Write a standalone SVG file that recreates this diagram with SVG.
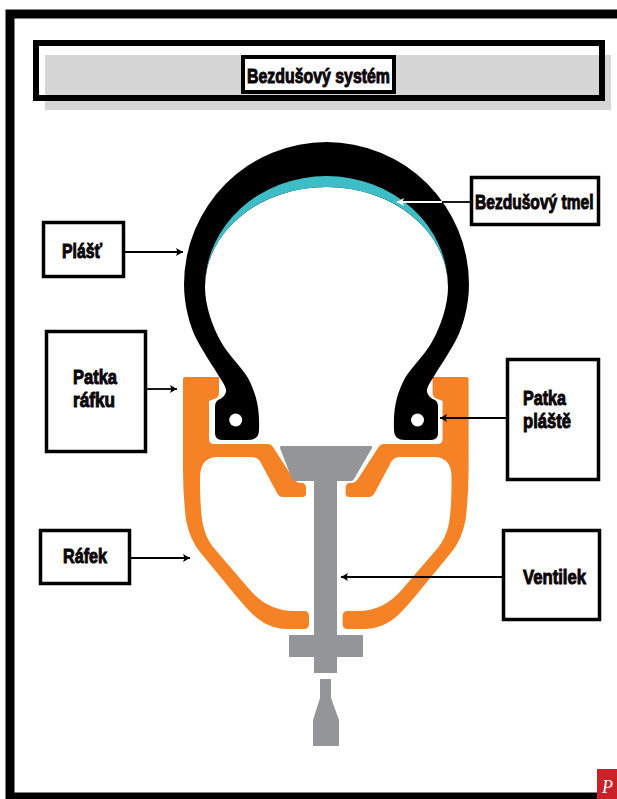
<svg xmlns="http://www.w3.org/2000/svg" xmlns:xlink="http://www.w3.org/1999/xlink" width="617" height="799" viewBox="0 0 617 799">
<style>
.box{fill:#fff;stroke:#000;stroke-width:3.5}
.lbl{font-family:"Liberation Sans",Arial,sans-serif;font-weight:700;font-size:21px;fill:#0a0408;stroke:#0a0408;stroke-width:1}
.con{fill:none;stroke:#000;stroke-width:1.8}
.rim{fill:#f58225}
.val{fill:#939598}
</style>
<defs>
<marker id="ah" markerUnits="userSpaceOnUse" markerWidth="8" markerHeight="10" refX="7" refY="5" orient="auto"><path d="M0 1L7 5L0 9L1.500 5Z" fill="#000"/></marker>
<marker id="ahw" markerUnits="userSpaceOnUse" markerWidth="8" markerHeight="10" refX="7" refY="5" orient="auto"><path d="M0 1L7 5L0 9L1.500 5Z" fill="#fff"/></marker>
<path id="rimHalf" d="M185 377H219V392Q219 398 214 399L209 401V439Q209 444 214 444H268Q271 444 273 447L293 478Q296 483 301 483H303Q306 484 306 488V494Q306 497 302 497H283Q279 497 277 493L262 465Q259 457 252 457H216Q200 458 200 478Q200 510 203 525Q206 538 213 547L250 590Q268 611 294 611H304Q309 611 309 616V624Q309 629 304 629H288C262 629 250 612 237 597L200 552Q190 540 186 520Q183 495 183 470V379Q183 377 185 377Z"/>
<path id="tireHalf" d="M327 142A142.500 142.500 0 0 0 184 284.500C184 305 190 327 197 340C205 355 213 366 220 378Q227 388 226 392Q224 398 218 400Q215 402 215 407V433Q215 440 222 440H248Q259 440 259 430C260 405 255 392 248 378C240 365 228 355 220 340C212 325 205 305 205 287A121.500 100 0 0 1 327 187Z"/>
</defs>
<g id="frame">
<rect x="10" y="14" width="620" height="783" fill="#fff" stroke="#000" stroke-width="9"/>
</g>
<g id="title">
<rect x="45" y="55" width="566" height="55" fill="#d6d6d6"/>
<rect x="36" y="43" width="566" height="55" fill="none" stroke="#000" stroke-width="6"/>
<rect x="243" y="57" width="151" height="35" fill="#fff" stroke="#000" stroke-width="4"/>
<text class="lbl" x="247" y="83" textLength="143" lengthAdjust="spacingAndGlyphs">Bezdušový systém</text>
</g>
<g id="rim">
<use xlink:href="#rimHalf" href="#rimHalf" class="rim"/>
<use xlink:href="#rimHalf" href="#rimHalf" class="rim" transform="translate(651.6 0) scale(-1 1)"/>
</g>
<g id="valve">
<path class="val" d="M281 446H371Q373 446 372 448L354 479Q353 481 351 481H337V635H363V657H337V673H314V657H289V635H314V481H295Q293 481 292 479L280 448Q280 446 281 446Z"/>
<path class="val" d="M320 679H331V698L339 720V746H313V720L320 698Z"/>
</g>
<g id="tire">
<use xlink:href="#tireHalf" href="#tireHalf" fill="#000"/>
<use xlink:href="#tireHalf" href="#tireHalf" fill="#000" transform="translate(653 0) scale(-1 1)"/>
<path d="M205 287A121.500 111 0 0 1 448 287A121.500 100 0 0 0 205 287Z" fill="#3dbdc6"/>
<circle cx="235.700" cy="420" r="6.500" fill="#fff"/>
<circle cx="417.500" cy="420" r="6.500" fill="#fff"/>
</g>
<g id="connectors">
<path class="con" d="M125 252H183" marker-end="url(#ah)"/>
<path class="con" d="M147 389H177" marker-end="url(#ah)"/>
<path class="con" d="M131 558H190" marker-end="url(#ah)"/>
<path class="con" d="M506 418H440" marker-end="url(#ah)"/>
<path class="con" d="M502 577H341" marker-end="url(#ah)"/>
<path class="con" d="M470 202H442"/>
<path d="M442 202H397" fill="none" stroke="#fff" stroke-width="1.800" marker-end="url(#ahw)"/>
</g>
<g id="node-plast">
<rect class="box" x="43.500" y="222.500" width="80" height="54"/>
<text class="lbl" x="62" y="258" textLength="40" lengthAdjust="spacingAndGlyphs">Plášť</text>
</g>
<g id="node-patka-rafku">
<rect class="box" x="46.500" y="331.500" width="99" height="120"/>
<text class="lbl" x="73" y="384" textLength="44" lengthAdjust="spacingAndGlyphs">Patka</text>
<text class="lbl" x="73" y="407" textLength="42" lengthAdjust="spacingAndGlyphs">ráfku</text>
</g>
<g id="node-rafek">
<rect class="box" x="40.500" y="530.500" width="89" height="53"/>
<text class="lbl" x="63" y="563" textLength="44" lengthAdjust="spacingAndGlyphs">Ráfek</text>
</g>
<g id="node-tmel">
<rect class="box" x="471.500" y="177.500" width="127" height="47"/>
<text class="lbl" transform="translate(475 209) scale(.78 1)" textLength="152" lengthAdjust="spacingAndGlyphs">Bezdušový tmel</text>
</g>
<g id="node-patka-plaste">
<rect class="box" x="507.500" y="359.500" width="91" height="120"/>
<text class="lbl" x="523" y="405" textLength="43" lengthAdjust="spacingAndGlyphs">Patka</text>
<text class="lbl" x="523" y="428" textLength="48" lengthAdjust="spacingAndGlyphs">pláště</text>
</g>
<g id="node-ventilek">
<rect class="box" x="503.500" y="530.500" width="96" height="89"/>
<text class="lbl" x="523" y="584" textLength="63" lengthAdjust="spacingAndGlyphs">Ventilek</text>
</g>
<g id="badge">
<rect x="597" y="769" width="20" height="30" fill="#cb2027"/>
<text x="602" y="793" font-family="Liberation Serif,serif" font-style="italic" font-size="18" fill="#fff">P</text>
</g>
</svg>
